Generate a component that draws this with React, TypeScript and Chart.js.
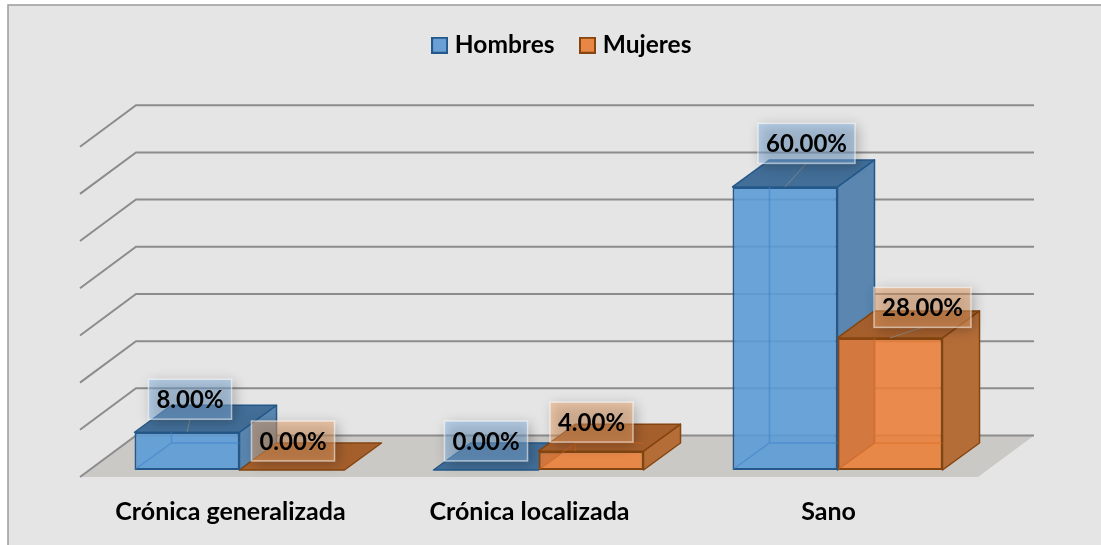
import React, { useEffect, useRef } from "react";
import { Chart, registerables } from "chart.js";

Chart.register(...registerables);

const categories = ["Crónica generalizada", "Crónica localizada", "Sano"];
const hombres = [8, 0, 60];
const mujeres = [0, 4, 28];
const seriesNames = ["Hombres", "Mujeres"];
const FONT = "Lato, Carlito, sans-serif";

// label-box nudges relative to the top-centre of each bar's front face
const labelNudges = [
  [[3, -33], [1, -29]],
  [[0, -29], [0.5, -29]],
  [[21.5, -43.5], [32.5, -30.5]],
];

const palette = [
  {
    front: "rgba(91,155,213,0.9)", edge: "#24588a", top: "#426e97", side: "#5a86af",
    inner: "rgba(60,130,200,0.55)", leftShade: "rgba(0,0,0,0)",
    box: "rgba(134,183,232,0.47)", swatch: "#6a9fd6",
  },
  {
    front: "rgba(234,125,55,0.88)", edge: "#84450f", top: "#a55f2d", side: "#b56d38",
    inner: "rgba(214,104,30,0.45)", leftShade: "rgba(170,85,25,0.12)",
    box: "rgba(242,168,108,0.47)", swatch: "#ea8645",
  },
];

const BAR_DX = 37;
const BAR_DY = -27;

function swatch(fill: string, edge: string) {
  const c = document.createElement("canvas");
  c.width = 17;
  c.height = 17;
  const g = c.getContext("2d")!;
  g.fillStyle = fill;
  g.fillRect(0, 0, 17, 17);
  g.strokeStyle = edge;
  g.lineWidth = 2;
  g.strokeRect(1, 1, 15, 15);
  return c;
}

function poly(ctx: CanvasRenderingContext2D, pts: number[][], fill?: string, stroke?: string, lw = 1.5) {
  ctx.beginPath();
  pts.forEach((p, i) => (i ? ctx.lineTo(p[0], p[1]) : ctx.moveTo(p[0], p[1])));
  ctx.closePath();
  if (fill) {
    ctx.fillStyle = fill;
    ctx.fill();
  }
  if (stroke) {
    ctx.strokeStyle = stroke;
    ctx.lineWidth = lw;
    ctx.lineJoin = "round";
    ctx.stroke();
  }
}

const scenePlugin = {
  id: "scene",
  afterLayout(chart: any) {
    const lg = chart.legend;
    const w = lg.right - lg.left;
    lg.top = 3;
    lg.left = 564 - w / 2;
    lg.right = lg.left + w;
    lg.bottom = lg.top + lg.height;
  },
  beforeDraw(chart: any) {
    const ctx = chart.ctx;
    ctx.save();
    ctx.fillStyle = "#ffffff";
    ctx.fillRect(0, 0, chart.width, chart.height);
    ctx.fillStyle = "#e5e5e5";
    ctx.fillRect(8, 5, chart.width - 8, chart.height - 5);
    ctx.strokeStyle = "#9b9b9b";
    ctx.lineWidth = 1.5;
    ctx.beginPath();
    ctx.moveTo(8, chart.height);
    ctx.lineTo(8, 5);
    ctx.lineTo(chart.width, 5);
    ctx.stroke();
    ctx.restore();
  },
  beforeDatasetsDraw(chart: any) {
    const ctx = chart.ctx;
    const a = chart.chartArea;
    const y = chart.scales.y;
    const x0 = y.getPixelForValue(0);
    ctx.save();
    // floor
    poly(ctx, [
      [a.left - 10, x0 + 7],
      [a.left + 46, x0 - 34.5],
      [a.right + 47, x0 - 34.5],
      [a.right - 9, x0 + 7],
    ], "#cbc9c6");
    // wall grid lines
    ctx.strokeStyle = "#8c8c8c";
    ctx.lineWidth = 2;
    y.ticks.forEach((t: any) => {
      const p = y.getPixelForValue(t.value);
      ctx.beginPath();
      ctx.moveTo(a.left - 10, p + 7);
      ctx.lineTo(a.left + 46, p - 34.5);
      ctx.lineTo(a.right + 47, p - 34.5);
      ctx.stroke();
    });
    // sides and tops of the boxes
    [0, 1].forEach((di) => {
      const pal = palette[di];
      chart.getDatasetMeta(di).data.forEach((b: any) => {
        const l = b.x - b.width / 2;
        const r = b.x + b.width / 2;
        if (b.base - b.y > 0.5) {
          poly(ctx, [[r, b.y], [r + BAR_DX, b.y + BAR_DY], [r + BAR_DX, b.base + BAR_DY], [r, b.base]], pal.side, pal.edge);
        }
        poly(ctx, [[l, b.y], [l + BAR_DX, b.y + BAR_DY], [r + BAR_DX, b.y + BAR_DY], [r, b.y]], pal.top, pal.edge);
      });
    });
    ctx.restore();
  },
  afterDatasetsDraw(chart: any) {
    const ctx = chart.ctx;
    ctx.save();
    // inner edges seen through the translucent front faces
    [0, 1].forEach((di) => {
      const pal = palette[di];
      chart.getDatasetMeta(di).data.forEach((b: any) => {
        if (b.base - b.y < 0.5) return;
        const l = b.x - b.width / 2;
        const r = b.x + b.width / 2;
        poly(ctx, [[l, b.base], [l + BAR_DX, b.base + BAR_DY], [l + BAR_DX, b.y], [l, b.y]], pal.leftShade);
        ctx.strokeStyle = pal.inner;
        ctx.lineWidth = 1.5;
        ctx.beginPath();
        ctx.moveTo(l + 1, b.base - 1);
        ctx.lineTo(l + BAR_DX, b.base + BAR_DY);
        ctx.lineTo(r, b.base + BAR_DY);
        ctx.moveTo(l + BAR_DX, b.base + BAR_DY);
        ctx.lineTo(l + BAR_DX, b.y);
        ctx.stroke();
      });
    });
    // data labels
    ctx.font = `bold 24px ${FONT}`;
    ctx.textAlign = "center";
    ctx.textBaseline = "middle";
    [0, 1].forEach((di) => {
      const pal = palette[di];
      const data = chart.data.datasets[di].data;
      chart.getDatasetMeta(di).data.forEach((b: any, i: number) => {
        const [nx, ny] = labelNudges[i][di];
        const cx = b.x + nx;
        const cy = b.y + ny;
        const text = `${data[i].toFixed(2)}%`;
        const w = ctx.measureText(text).width + 16;
        const h = 40;
        if (b.base - b.y > 20) {
          ctx.strokeStyle = "rgba(140,140,140,0.8)";
          ctx.lineWidth = 1;
          ctx.beginPath();
          ctx.moveTo(b.x, b.y);
          ctx.lineTo(cx, cy + h / 2);
          ctx.stroke();
        }
        ctx.save();
        ctx.shadowColor = "rgba(0,0,0,0.55)";
        ctx.shadowBlur = 12;
        ctx.shadowOffsetX = 3;
        ctx.shadowOffsetY = 3;
        ctx.fillStyle = pal.box;
        ctx.fillRect(cx - w / 2, cy - h / 2, w, h);
        ctx.restore();
        ctx.strokeStyle = "rgba(255,255,255,0.55)";
        ctx.lineWidth = 1.5;
        ctx.strokeRect(cx - w / 2, cy - h / 2, w, h);
        ctx.fillStyle = "#000000";
        ctx.fillText(text, cx, cy + 1);
      });
    });
    ctx.restore();
  },
};

export default function App() {
  const ref = useRef<HTMLCanvasElement>(null);
  useEffect(() => {
    const chart = new Chart(ref.current!, {
      type: "bar",
      data: {
        labels: categories,
        datasets: [
          { label: seriesNames[0], data: hombres, backgroundColor: palette[0].front, borderColor: palette[0].edge, borderWidth: 2, borderSkipped: false },
          { label: seriesNames[1], data: mujeres, backgroundColor: palette[1].front, borderColor: palette[1].edge, borderWidth: 2, borderSkipped: false },
        ],
      },
      plugins: [scenePlugin],
      options: {
        responsive: false,
        animation: false,
        layout: { padding: { left: 90, right: 114, top: 75.2, bottom: 0 } },
        datasets: { bar: { categoryPercentage: 210 / 299, barPercentage: 1 } },
        plugins: {
          tooltip: { enabled: false },
          legend: {
            position: "top",
            labels: {
              usePointStyle: true,
              pointStyleWidth: 6,
              padding: 30,
              color: "#000000",
              font: { family: FONT, weight: "bold", size: 24.5 },
              generateLabels: () =>
                seriesNames.map((text, i) => ({
                  text,
                  datasetIndex: i,
                  fontColor: "#000000",
                  pointStyle: swatch(palette[i].swatch, palette[i].edge),
                  lineWidth: 0,
                })),
            },
          },
        },
        scales: {
          x: {
            grid: { display: false },
            border: { display: false },
            afterFit: (s: any) => { s.height = 75; },
            ticks: {
              autoSkip: false,
              maxRotation: 0,
              labelOffset: -9,
              padding: 19,
              color: "#000000",
              font: { family: FONT, weight: "bold", size: 25 },
            },
          },
          y: {
            display: false,
            min: 0,
            max: 70,
            ticks: { stepSize: 10 },
          },
        },
      },
    } as any);
    return () => chart.destroy();
  }, []);
  return (
    <div style={{ position: "fixed", left: 0, top: 0, width: 1101, height: 545 }}>
      <canvas ref={ref} width={1101} height={545} style={{ display: "block", width: 1101, height: 545 }} />
    </div>
  );
}
